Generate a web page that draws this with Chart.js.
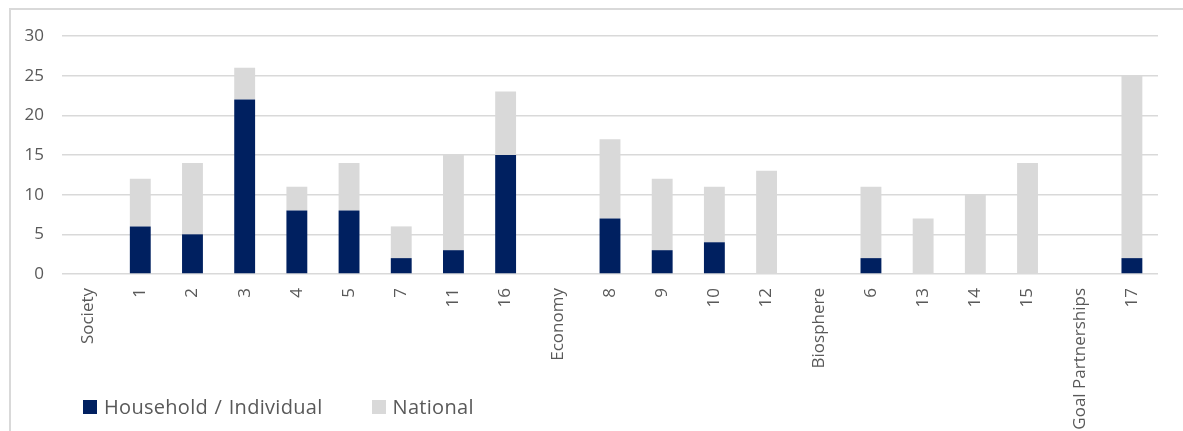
<!DOCTYPE html>
<html>
<head>
<meta charset="utf-8">
<script src="https://cdn.jsdelivr.net/npm/chart.js@4"></script>
<style>
    html, body {
        margin: 0;
        padding: 0;
        background: #fff;
        overflow: hidden;
    }
    #wrap {
        position: relative;
        width: 1183px;
        height: 431px;
    }
    #frame {
        position: absolute;
        left: 9px;
        top: 8px;
        width: 1300px;
        height: 600px;
        border: 2px solid #d9d9d9;
    }
    #grafico {
        position: absolute;
        left: 0;
        top: 0;
    }
    #legenda {
        position: absolute;
        left: 83px;
        top: 393px;
        display: flex;
        align-items: center;
        font-family: "Open Sans", sans-serif;
        font-size: 20px;
        letter-spacing: 0.3px;
        word-spacing: 1px;
        color: #595959;
    }
    .item {
        display: flex;
        align-items: center;
        margin-right: 49px;
    }
    .caixa {
        width: 14px;
        height: 14px;
        margin-right: 7px;
    }
</style>
</head>
<body>
<div id="wrap">
    <div id="frame"></div>
    <canvas id="grafico" width="1183" height="431"></canvas>
    <div id="legenda"></div>
</div>
<script>
const categorias = [
    "Society", "1", "2", "3", "4", "5", "7", "11", "16",
    "Economy", "8", "9", "10", "12",
    "Biosphere", "6", "13", "14", "15",
    "Goal Partnerships", "17"
];

const valoresHousehold = [null, 6, 5, 22, 8, 8, 2, 3, 15, null, 7, 3, 4, 0, null, 2, 0, 0, 0, null, 2];
const valoresNational = [null, 6, 9, 4, 3, 6, 4, 12, 8, null, 10, 9, 7, 13, null, 9, 7, 10, 14, null, 23];

const ticksY = [0, 5, 10, 15, 20, 25, 30];

const corTexto = '#595959';
const corGrade = '#d9d9d9';

const ctx = document.getElementById('grafico').getContext('2d');

const grafico = new Chart(ctx, {
    type: 'bar',
    data: {
        labels: categorias,
        datasets: [
            {
                label: 'Household / Individual',
                data: valoresHousehold,
                backgroundColor: '#002060',
                categoryPercentage: 1,
                barPercentage: 0.4
            },
            {
                label: 'National',
                data: valoresNational,
                backgroundColor: '#d9d9d9',
                categoryPercentage: 1,
                barPercentage: 0.4
            }
        ]
    },
    options: {
        responsive: false,
        animation: false,
        layout: {
            padding: { top: 36, right: 25, bottom: 0, left: 0 }
        },
        plugins: {
            legend: { display: false },
            tooltip: { enabled: false }
        },
        scales: {
            x: {
                stacked: true,
                grid: { display: false, drawTicks: false },
                border: { display: false },
                ticks: {
                    color: corTexto,
                    font: { family: 'Open Sans', size: 17 },
                    minRotation: 90,
                    maxRotation: 90,
                    autoSkip: false,
                    padding: 14
                },
                afterFit: function (scale) {
                    scale.height = 157;
                }
            },
            y: {
                stacked: true,
                min: ticksY[0],
                max: ticksY[ticksY.length - 1],
                grid: {
                    color: corGrade,
                    lineWidth: 1.5,
                    drawTicks: false
                },
                border: { display: false },
                afterBuildTicks: function (scale) {
                    scale.ticks = ticksY.map(v => ({ value: v }));
                },
                ticks: {
                    color: corTexto,
                    font: { family: 'Open Sans', size: 17 },
                    padding: 18
                },
                afterFit: function (scale) {
                    scale.width = 62;
                }
            }
        }
    }
});

// legenda montada a partir dos datasets
const legenda = document.getElementById('legenda');
grafico.data.datasets.forEach(ds => {
    const item = document.createElement('div');
    item.className = 'item';
    const caixa = document.createElement('span');
    caixa.className = 'caixa';
    caixa.style.background = ds.backgroundColor;
    const texto = document.createElement('span');
    texto.textContent = ds.label;
    item.appendChild(caixa);
    item.appendChild(texto);
    legenda.appendChild(item);
});
</script>
</body>
</html>
